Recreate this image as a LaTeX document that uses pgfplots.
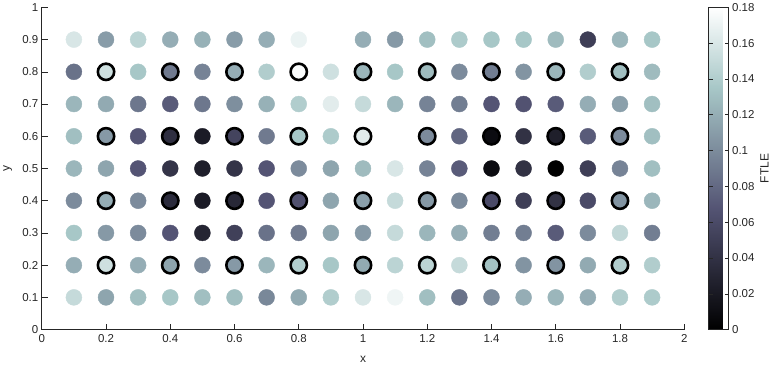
\documentclass[border=0pt]{standalone}
\usepackage{pgfplots}
\pgfplotsset{compat=1.18}
\usepackage{fontspec}
\setmainfont{Liberation Sans}

% MATLAB bone colormap
\pgfplotsset{colormap={bone}{rgb(0cm)=(0,0,0) rgb(3cm)=(0.328,0.328,0.453) rgb(6cm)=(0.656,0.781,0.781) rgb(8cm)=(1,1,1)}}

\definecolor{axgray}{rgb}{0.15,0.15,0.15}

\begin{document}
\begin{tikzpicture}
\begin{axis}[
    name=main,
    scale only axis,
    width=644pt, height=323pt,
    xmin=0, xmax=2, ymin=0, ymax=1,
    xtick={0,0.2,...,2.01}, ytick={0,0.1,...,1.01},
    axis x line*=bottom, axis y line*=left,
    tick align=inside, major tick length=6pt,
    axis line style={axgray, line width=0.6pt},
    tick style={axgray, line width=0.6pt},
    ticklabel style={font=\fontsize{11.5}{13}\selectfont, text=axgray},
    xticklabel style={yshift=-1pt},
    /pgf/number format/assume math mode=true,
    scaled ticks=false,
    xlabel={x}, ylabel={y},
    label style={font=\fontsize{12}{14}\selectfont, text=axgray},
    xlabel style={at={(rel axis cs:0.5,-0.093)}, anchor=center},
    ylabel style={at={(rel axis cs:-0.053,0.5)}, anchor=center},
    colormap name=bone,
    point meta min=0, point meta max=0.18,
    colorbar right,
    colorbar style={
        at={(parent axis.north east)}, anchor=north west, xshift=16pt,
        width=20pt,
        ytick={0,0.02,...,0.181},
        yticklabel pos=right,
        ylabel={FTLE},
        ylabel style={font=\fontsize{12}{14}\selectfont, text=axgray,
            at={(rel axis cs:2.8,0.5)}, anchor=center},
        tick align=inside, major tick length=4pt,
        axis line style={axgray, line width=0.6pt},
        tick style={axgray, line width=0.6pt},
        ticklabel style={font=\fontsize{11.5}{13}\selectfont, text=axgray},
        /pgf/number format/assume math mode=true,
        /pgf/number format/fixed, /pgf/number format/precision=2,
        scaled ticks=false,
    },
]

% plain points
\addplot[scatter, only marks, mark=*, mark size=8pt, scatter src=explicit,
    scatter/use mapped color={draw=mapped color, fill=mapped color}]
table[meta=c] {
x y c
0.1 0.9 0.160
0.2 0.9 0.110
0.3 0.9 0.145
0.4 0.9 0.120
0.5 0.9 0.122
0.6 0.9 0.110
0.7 0.9 0.120
0.8 0.9 0.170
1.0 0.9 0.120
1.1 0.9 0.108
1.2 0.9 0.130
1.3 0.9 0.138
1.4 0.9 0.135
1.5 0.9 0.135
1.6 0.9 0.128
1.7 0.9 0.050
1.8 0.9 0.125
1.9 0.9 0.135
0.1 0.8 0.085
0.3 0.8 0.135
0.5 0.8 0.095
0.7 0.8 0.140
0.9 0.8 0.155
1.1 0.8 0.135
1.3 0.8 0.100
1.5 0.8 0.105
1.7 0.8 0.140
1.9 0.8 0.128
0.1 0.7 0.125
0.2 0.7 0.118
0.3 0.7 0.088
0.4 0.7 0.072
0.5 0.7 0.088
0.6 0.7 0.102
0.7 0.7 0.122
0.8 0.7 0.140
0.9 0.7 0.165
1.0 0.7 0.150
1.1 0.7 0.125
1.2 0.7 0.095
1.3 0.7 0.092
1.4 0.7 0.068
1.5 0.7 0.066
1.6 0.7 0.072
1.7 0.7 0.120
1.8 0.7 0.112
1.9 0.7 0.130
0.1 0.6 0.130
0.3 0.6 0.068
0.5 0.6 0.022
0.7 0.6 0.090
0.9 0.6 0.138
1.3 0.6 0.078
1.5 0.6 0.040
1.7 0.6 0.072
1.9 0.6 0.130
0.1 0.5 0.125
0.2 0.5 0.115
0.3 0.5 0.068
0.4 0.5 0.042
0.5 0.5 0.025
0.6 0.5 0.042
0.7 0.5 0.068
0.8 0.5 0.100
0.9 0.5 0.115
1.0 0.5 0.128
1.1 0.5 0.160
1.2 0.5 0.095
1.3 0.5 0.072
1.4 0.5 0.010
1.5 0.5 0.040
1.6 0.5 0.000
1.7 0.5 0.050
1.8 0.5 0.095
1.9 0.5 0.130
0.1 0.4 0.100
0.3 0.4 0.100
0.5 0.4 0.022
0.7 0.4 0.068
0.9 0.4 0.115
1.1 0.4 0.150
1.3 0.4 0.100
1.5 0.4 0.050
1.7 0.4 0.060
1.9 0.4 0.125
0.1 0.3 0.135
0.2 0.3 0.108
0.3 0.3 0.100
0.4 0.3 0.068
0.5 0.3 0.030
0.6 0.3 0.052
0.7 0.3 0.085
0.8 0.3 0.090
0.9 0.3 0.115
1.0 0.3 0.108
1.1 0.3 0.150
1.2 0.3 0.125
1.3 0.3 0.120
1.4 0.3 0.092
1.5 0.3 0.092
1.6 0.3 0.072
1.7 0.3 0.100
1.8 0.3 0.148
1.9 0.3 0.092
0.1 0.2 0.120
0.3 0.2 0.120
0.5 0.2 0.100
0.7 0.2 0.125
0.9 0.2 0.135
1.1 0.2 0.145
1.3 0.2 0.150
1.5 0.2 0.105
1.7 0.2 0.118
1.9 0.2 0.140
0.1 0.1 0.150
0.2 0.1 0.115
0.3 0.1 0.130
0.4 0.1 0.135
0.5 0.1 0.130
0.6 0.1 0.130
0.7 0.1 0.098
0.8 0.1 0.118
0.9 0.1 0.140
1.0 0.1 0.160
1.1 0.1 0.172
1.2 0.1 0.130
1.3 0.1 0.085
1.4 0.1 0.100
1.5 0.1 0.120
1.6 0.1 0.125
1.7 0.1 0.120
1.8 0.1 0.140
1.9 0.1 0.138
};

% ringed points
\addplot[scatter, only marks, mark=*, mark size=8.2pt, scatter src=explicit,
    mark options={line width=2.6pt},
    scatter/use mapped color={draw=black, fill=mapped color}]
table[meta=c] {
x y c
0.2 0.8 0.155
0.4 0.8 0.090
0.6 0.8 0.120
0.8 0.8 0.178
1.0 0.8 0.125
1.2 0.8 0.128
1.4 0.8 0.092
1.6 0.8 0.125
1.8 0.8 0.130
0.2 0.6 0.108
0.4 0.6 0.038
0.6 0.6 0.055
0.8 0.6 0.135
1.0 0.6 0.165
1.2 0.6 0.100
1.4 0.6 0.010
1.6 0.6 0.025
1.8 0.6 0.100
0.2 0.4 0.120
0.4 0.4 0.035
0.6 0.4 0.032
0.8 0.4 0.065
1.0 0.4 0.112
1.2 0.4 0.108
1.4 0.4 0.060
1.6 0.4 0.040
1.8 0.4 0.105
0.2 0.2 0.155
0.4 0.2 0.115
0.6 0.2 0.108
0.8 0.2 0.140
1.0 0.2 0.118
1.2 0.2 0.145
1.4 0.2 0.132
1.6 0.2 0.105
1.8 0.2 0.140
};
\end{axis}
\path (main.south west) ++(-40pt,-37pt) rectangle ++(772pt,365pt);
\end{tikzpicture}
\end{document}
